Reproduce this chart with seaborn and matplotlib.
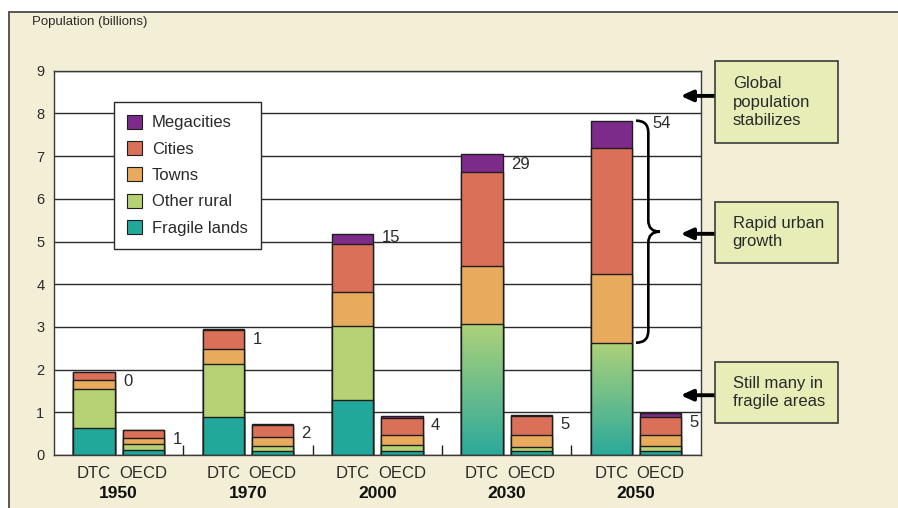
import numpy as np
import pandas as pd
import matplotlib
matplotlib.use('Agg')
import matplotlib.pyplot as plt
import seaborn as sns
from matplotlib.patches import Patch, Rectangle, PathPatch
from matplotlib.path import Path
from matplotlib.colors import LinearSegmentedColormap
import matplotlib.transforms as mtransforms

# ---------------- data ----------------
years = ['1950', '1970', '2000', '2030', '2050']
regions = ['DTC', 'OECD']
categories = ['Megacities', 'Cities', 'Towns', 'Other rural', 'Fragile lands']

nan = np.nan
# DTC segments (billions); projections do not split rural / fragile lands
dtc_fragile = [0.63, 0.89, 1.29, nan, nan]
dtc_other_rural = [0.92, 1.24, 1.74, nan, nan]
dtc_rural_unsplit = [nan, nan, nan, 3.06, 2.63]
dtc_towns = [0.21, 0.35, 0.79, 1.37, 1.62]
dtc_cities = [0.18, 0.45, 1.13, 2.19, 2.95]
dtc_mega = [0.00, 0.01, 0.22, 0.42, 0.63]

oecd_fragile = [0.12, 0.09, 0.10, 0.09, 0.10]
oecd_other_rural = [0.13, 0.13, 0.13, 0.10, 0.12]
oecd_towns = [0.15, 0.19, 0.25, 0.28, 0.26]
oecd_cities = [0.18, 0.29, 0.39, 0.44, 0.42]
oecd_mega = [0.01, 0.02, 0.04, 0.03, 0.09]

dtc_megacity_count = [0, 1, 15, 29, 54]
oecd_megacity_count = [1, 2, 4, 5, 5]

# ---------------- styles ----------------
colors = {'Megacities': '#7D2B8B', 'Cities': '#DA7058', 'Towns': '#E8AA5C',
          'Other rural': '#B6D275', 'Fragile lands': '#22A89B'}
grad_cmap = LinearSegmentedColormap.from_list('g', ['#2BA99B', '#AED27A'])
cream = '#F3EED6'
boxfill = '#E8EDB7'
edge = '#1e1e1e'
txt = '#2a2a2a'

plt.rcParams['font.family'] = ['Liberation Sans', 'DejaVu Sans']
cond = ['Liberation Sans Narrow', 'Liberation Sans', 'DejaVu Sans']

# cumulative tops
def cum_layers(fr, orr, unsplit, tw, ci, me):
    fr = np.array(fr, float); orr = np.array(orr, float); un = np.array(unsplit, float)
    rural = np.nansum(np.vstack([fr, orr, un]), axis=0)
    towns = rural + np.array(tw)
    cities = towns + np.array(ci)
    mega = cities + np.array(me)
    return {'Megacities': mega, 'Cities': cities, 'Towns': towns,
            'Other rural': rural, 'Fragile lands': fr}

dtc_cum = cum_layers(dtc_fragile, dtc_other_rural, dtc_rural_unsplit, dtc_towns, dtc_cities, dtc_mega)
oecd_cum = cum_layers(oecd_fragile, oecd_other_rural, [nan] * 5, oecd_towns, oecd_cities, oecd_mega)

fig = plt.figure(figsize=(8.98, 5.08), dpi=100)
fig.patch.set_facecolor('white')
fig.add_artist(Rectangle((9 / 898, -0.05), 1.2, (1 - 12 / 508) + 0.05, transform=fig.transFigure,
                         facecolor=cream, edgecolor='#4a4a4a', lw=1.3, zorder=-10))

ax = fig.add_axes([54 / 898, 53 / 508, 646.7 / 898, 384.3 / 508])
ax.set_facecolor('white')

patch_map = {}
for cat in categories:
    df = pd.DataFrame({'year': years * 2,
                       'region': ['DTC'] * 5 + ['OECD'] * 5,
                       'value': list(dtc_cum[cat]) + list(oecd_cum[cat])}).dropna()
    n0 = len(ax.patches)
    sns.barplot(data=df, x='year', y='value', hue='region', order=years, hue_order=regions,
                palette={'DTC': colors[cat], 'OECD': colors[cat]}, saturation=1,
                width=0.76, gap=0.158, edgecolor=edge, linewidth=1.0,
                errorbar=None, legend=False, ax=ax)
    for p in ax.patches[n0:]:
        cx = p.get_x() + p.get_width() / 2
        idx = int(round(cx))
        reg = 'DTC' if cx < idx else 'OECD'
        patch_map[(cat, idx, reg)] = p
        if cat == 'Other rural' and reg == 'DTC' and not np.isnan(dtc_rural_unsplit[idx]):
            x0, w, h = p.get_x(), p.get_width(), p.get_height()
            im = ax.imshow(np.linspace(0, 1, 256).reshape(-1, 1), extent=[x0, x0 + w, 0, h],
                           origin='lower', aspect='auto', cmap=grad_cmap, zorder=1.05)
            im.set_clip_path(p)
            p.set_facecolor('none')
            p.set_zorder(1.1)

ax.set_xlim(-0.5, 4.5)
ax.set_ylim(0, 9)
ax.set_yticks(range(10))
ax.set_yticklabels([str(v) for v in range(10)], fontsize=10.5, color=txt, family=cond)
ax.tick_params(axis='y', length=0, pad=7)
ax.set_xticks(range(5))
ax.set_xticklabels([''] * 5)
ax.tick_params(axis='x', which='major', length=0)
ax.set_xticks([0.5, 1.5, 2.5, 3.5], minor=True)
ax.tick_params(axis='x', which='minor', direction='in', length=7, width=1.0, color=edge)
ax.set_xlabel('')
ax.set_ylabel('')
ax.yaxis.grid(True, color='#2a2a2a', lw=1.0)
ax.xaxis.grid(False)
ax.set_axisbelow(True)
for s in ax.spines.values():
    s.set_color('#3a3a3a')
    s.set_linewidth(1.0)
    s.set_visible(True)

# megacity count labels
label_offsets = {('DTC', 4): (14.5, -2), ('DTC', 2): (6, -2)}
for idx in range(5):
    for reg, counts in (('DTC', dtc_megacity_count), ('OECD', oecd_megacity_count)):
        p = patch_map[('Megacities', idx, reg)]
        xr = p.get_x() + p.get_width()
        yt = p.get_height()
        off = label_offsets.get((reg, idx), (6, -7))
        ax.annotate(str(counts[idx]), xy=(xr, yt), xytext=off, textcoords='offset points',
                    ha='left', va='center', fontsize=12, color=txt, family=cond)

# x labels
trans = mtransforms.blended_transform_factory(ax.transData, ax.transAxes)
for idx, yr in enumerate(years):
    for reg in regions:
        p = patch_map[('Megacities', idx, reg)]
        ax.text(p.get_x() + p.get_width() / 2, -0.049, reg, transform=trans, ha='center',
                va='center', fontsize=12, color=txt)
    ax.text(idx, -0.1, yr, transform=trans, ha='center', va='center', fontsize=12.5,
            fontweight='bold', color='#111111')

fig.text(31.7 / 898, 1 - 21.5 / 508, 'Population (billions)', ha='left', va='center',
         fontsize=9.5, color=txt, family=cond)

# legend
handles = [Patch(facecolor=colors[c], edgecolor=edge, lw=0.8, label=c) for c in categories]
leg = ax.legend(handles=handles, loc='upper left', bbox_to_anchor=(0.0923, 0.919),
                borderaxespad=0, frameon=True, fancybox=False, edgecolor='#2a2a2a',
                fontsize=12, handlelength=0.9, handleheight=0.9, handletextpad=0.6,
                labelspacing=0.64, borderpad=0.78, framealpha=1, labelcolor=txt)
leg.get_frame().set_linewidth(1.0)

# brace on 2050 DTC urban growth
ptop = patch_map[('Megacities', 4, 'DTC')]
pbot = patch_map[('Other rural', 4, 'DTC')]
xr = ptop.get_x() + ptop.get_width()
ytop, ybot = ptop.get_height(), pbot.get_height()
ymid = (ytop + ybot) / 2
x0, xm, xt = xr + 0.03, xr + 0.125, xr + 0.215
d1, d2 = 0.28, 0.26
verts = [(x0, ytop), (xm, ytop), (xm, ytop - d1), (xm, ymid + d2), (xm, ymid), (xt, ymid),
         (xm, ymid), (xm, ymid - d2), (xm, ybot + d1), (xm, ybot), (x0, ybot)]
codes = [Path.MOVETO, Path.CURVE3, Path.CURVE3, Path.LINETO, Path.CURVE3, Path.CURVE3,
         Path.CURVE3, Path.CURVE3, Path.LINETO, Path.CURVE3, Path.CURVE3]
ax.add_patch(PathPatch(Path(verts, codes), facecolor='none', edgecolor='black', lw=1.9,
                       zorder=3, clip_on=False))

# annotation boxes + arrows
boxes = [('Global\npopulation\nstabilizes', 60.7, 143.3, 8.41),
         ('Rapid urban\ngrowth', 201.7, 263.3, 5.18),
         ('Still many in\nfragile areas', 361.7, 423.3, 1.40)]
for label, ytp, ybp, yarrow in boxes:
    fig.add_artist(Rectangle((715.3 / 898, 1 - ybp / 508), 122.4 / 898, (ybp - ytp) / 508,
                             transform=fig.transFigure, facecolor=boxfill, edgecolor='#3a3a3a',
                             lw=1.2, zorder=2))
    fig.text(732.7 / 898, 1 - (ytp + ybp) / 2 / 508, label, ha='left', va='center',
             fontsize=12, color=txt, linespacing=1.28, zorder=3)
    ax.annotate('', xy=(4.345, yarrow), xytext=(4.613, yarrow), xycoords='data',
                textcoords='data', annotation_clip=False,
                arrowprops=dict(arrowstyle='-|>,head_length=0.7,head_width=0.32', lw=2.8,
                                color='black', shrinkA=0, shrinkB=0))

fig.savefig('out.png', dpi=100)
